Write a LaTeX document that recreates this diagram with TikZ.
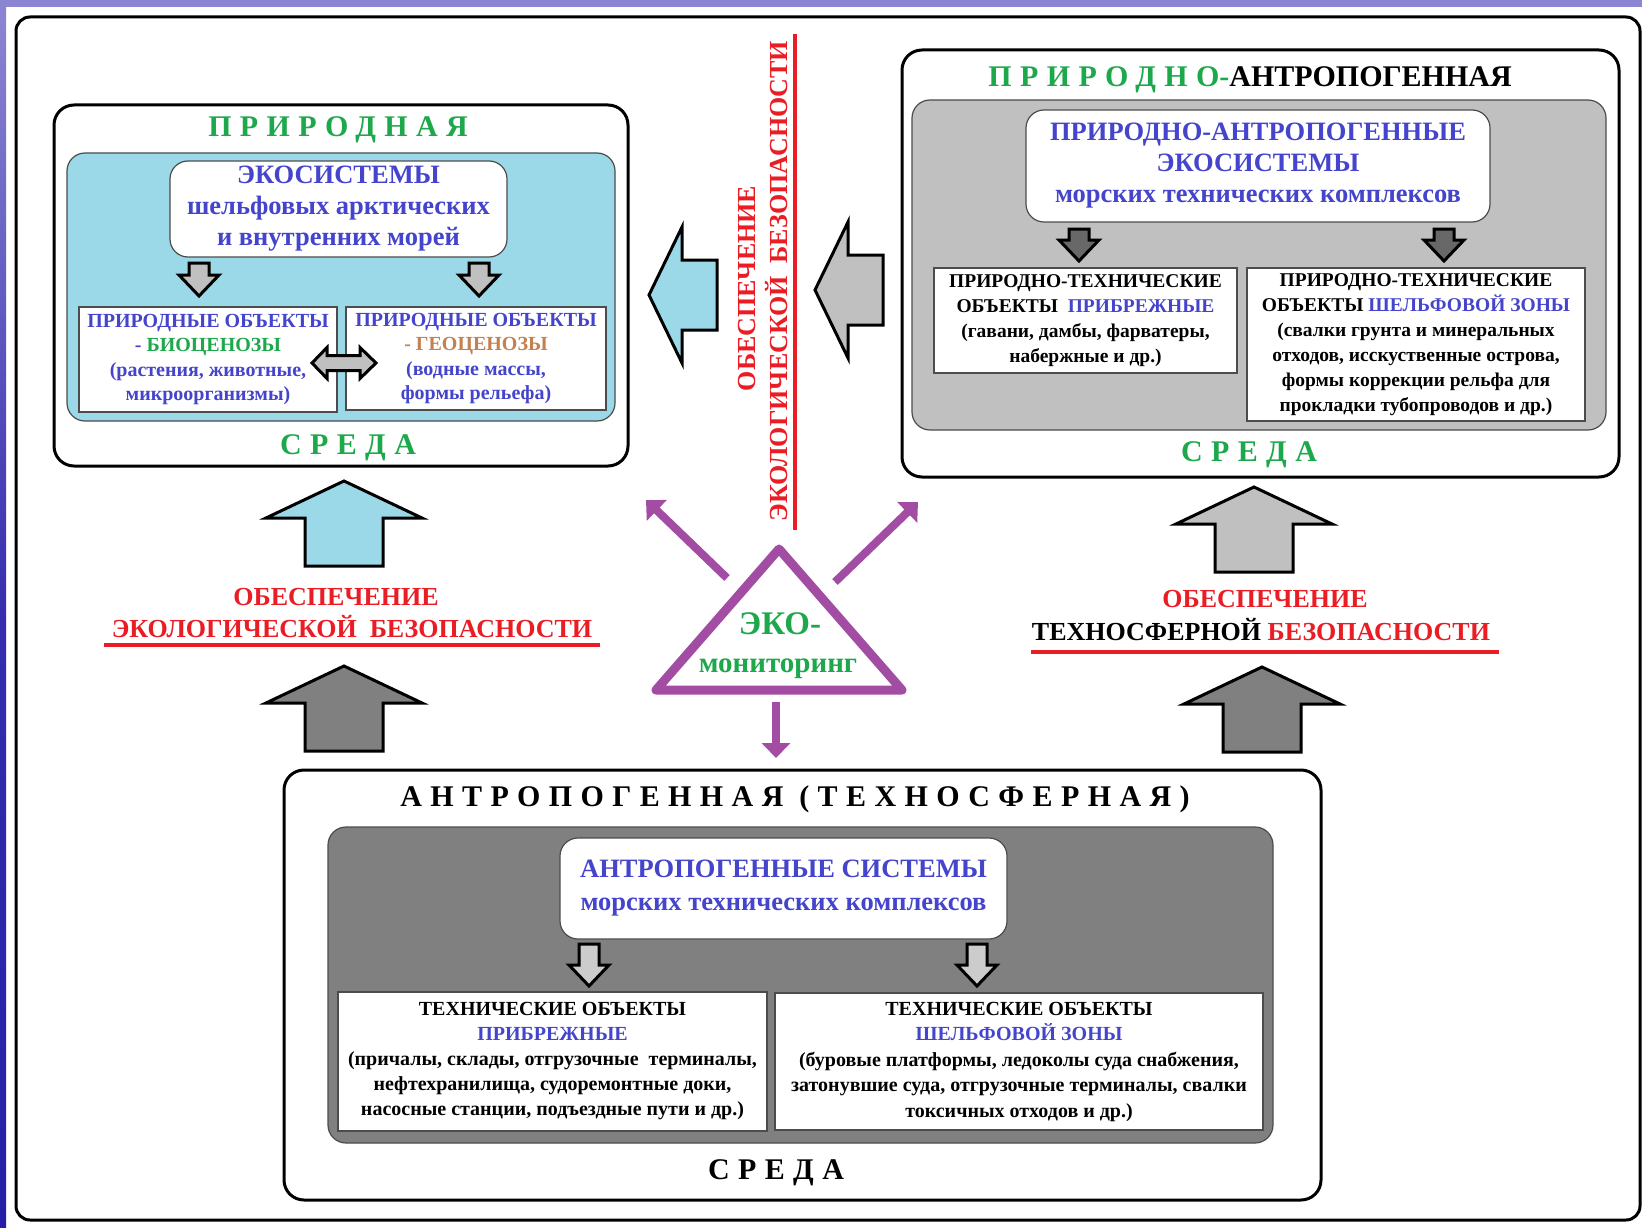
\documentclass[tikz,border=0pt]{standalone}
\usepackage{fontspec}
\setmainfont{Liberation Serif}
\usetikzlibrary{arrows.meta}

\definecolor{txtblue}{RGB}{68,68,204}
\definecolor{natgreen}{RGB}{30,168,76}
\definecolor{geobrown}{RGB}{196,128,78}
\definecolor{safered}{RGB}{234,28,36}
\definecolor{ecopurple}{RGB}{163,76,163}
\definecolor{natblue}{RGB}{155,216,232}
\definecolor{lgray}{RGB}{192,192,192}
\definecolor{mgray}{RGB}{104,104,104}
\definecolor{dgray}{RGB}{128,128,128}
\definecolor{pgray}{RGB}{204,204,204}
\definecolor{striptop}{RGB}{140,134,210}
\definecolor{stripbot}{RGB}{38,30,168}

\newcommand{\hdfnt}{\fontsize{30}{36}\selectfont\bfseries\addfontfeatures{LetterSpace=28}}
\newcommand{\sysfnt}{\fontsize{26.5}{31}\selectfont\bfseries}
\newcommand{\objfnt}{\fontsize{19.5}{25}\selectfont\bfseries}
\newcommand{\safefnt}{\fontsize{26}{31}\selectfont\bfseries}

\tikzset{
  outerbox/.style={draw=black, line width=3pt, rounded corners=14pt, fill=white},
  panel/.style={draw=black, line width=3pt, rounded corners=20pt, fill=white},
  areabox/.style={draw=black!70, line width=1.2pt, rounded corners=18pt},
  sysbox/.style={draw=black!70, line width=1.2pt, fill=white, rounded corners=18pt, align=center, text=txtblue, font=\sysfnt},
  objbox/.style={draw=black!70, line width=1.2pt, fill=white, align=center, font=\objfnt, inner sep=2pt},
  headtxt/.style={anchor=base, font=\hdfnt},
  safetxt/.style={anchor=base, font=\safefnt, text=safered},
  safeline/.style={draw=safered, line width=3.5pt},
  blk/.style={draw=black, line width=3pt, line join=miter},
  eco/.style={draw=ecopurple, line width=9pt, line join=round},
  ecoarrow/.style={draw=ecopurple, line width=8pt, -{Triangle[length=15pt,width=28pt]}},
  pics/bigup/.style={code={\draw[pic actions] (0,0) -- (78,37) -- (39,37) -- (39,85) -- (-39,85) -- (-39,37) -- (-78,37) -- cycle;}},
  pics/bigleft/.style={code={\draw[pic actions] (0,0) -- (33,-68) -- (33,-35) -- (68,-35) -- (68,35) -- (33,35) -- (33,68) -- cycle;}},
  pics/smalldown/.style={code={\draw[pic actions] (-10,0) -- (10,0) -- (10,#1) -- (20,#1) -- (0,#1+21) -- (-20,#1) -- (-10,#1) -- cycle;}}
}

\begin{document}
\begin{tikzpicture}[x=1pt,y=-1pt]
\useasboundingbox (0,0) rectangle (1642,1228);
\fill[white] (0,0) rectangle (1642,1228);
\fill[striptop] (0,0) rectangle (1642,7);
\shade[top color=striptop, bottom color=stripbot, middle color=stripbot!85!striptop] (0,0) rectangle (6,1228);
\node[outerbox, minimum width=1624pt, minimum height=1203pt] (frame) at (828,618.5) {};

\node[panel, minimum width=574pt, minimum height=361pt] (natpanel) at (341,285.5) {};
\node[areabox, fill=natblue, minimum width=548pt, minimum height=268pt] (natarea) at (341,287) {};
\node[sysbox, minimum width=337pt, minimum height=96pt] (natsys) at (338.5,209) {ЭКОСИСТЕМЫ\\шельфовых арктических\\и внутренних морей};
\node[objbox, text=txtblue, font=\fontsize{20}{24.5}\selectfont\bfseries, minimum width=258pt, minimum height=105pt] (bioobj) at (208,359.5) {ПРИРОДНЫЕ ОБЪЕКТЫ\\- {\color{natgreen}БИОЦЕНОЗЫ}\\(растения, животные,\\микроорганизмы)};
\node[objbox, text=txtblue, font=\fontsize{20}{24.5}\selectfont\bfseries, minimum width=260pt, minimum height=103pt] (geoobj) at (476,358.5) {ПРИРОДНЫЕ ОБЪЕКТЫ\\{\color{geobrown}- ГЕОЦЕНОЗЫ}\\(водные массы,\\формы рельефа)};
\node[headtxt, text=natgreen] (nattitle) at (338,137) {ПРИРОДНАЯ};
\node[headtxt, text=natgreen] (natenv) at (348,454) {СРЕДА};
\pic[blk, fill=lgray] at (199,263) {smalldown=12};
\pic[blk, fill=lgray] at (479,263) {smalldown=12};
\draw[blk, fill=lgray] (312,363) -- (327,347.5) -- (327,355.5) -- (360,355.5) -- (360,347.5) -- (376,363) -- (360,378.5) -- (360,370.5) -- (327,370.5) -- (327,378.5) -- cycle;

\node[panel, minimum width=717pt, minimum height=427pt] (mixpanel) at (1260.5,263.5) {};
\node[areabox, fill=lgray, minimum width=694pt, minimum height=330pt] (mixarea) at (1259,265) {};
\node[sysbox, minimum width=464pt, minimum height=112pt] (mixsys) at (1258,166) {ПРИРОДНО-АНТРОПОГЕННЫЕ\\ЭКОСИСТЕМЫ\\морских технических комплексов};
\node[objbox, minimum width=303pt, minimum height=105pt] (coastmix) at (1085.5,320.5) {ПРИРОДНО-ТЕХНИЧЕСКИЕ\\ОБЪЕКТЫ\ \ {\color{txtblue}ПРИБРЕЖНЫЕ}\\(гавани, дамбы, фарватеры,\\набержные и др.)};
\node[objbox, minimum width=338pt, minimum height=153pt] (shelfmix) at (1416,344.5) {ПРИРОДНО-ТЕХНИЧЕСКИЕ\\ОБЪЕКТЫ {\color{txtblue}ШЕЛЬФОВОЙ ЗОНЫ}\\(свалки грунта и минеральных\\отходов, исскуственные острова,\\формы коррекции рельфа для\\прокладки тубопроводов и др.)};
\node[headtxt] (mixtitle) at (1250,87) {{\color{natgreen}ПРИРОДНО}{\addfontfeatures{LetterSpace=0}{\color{natgreen}-}АНТРОПОГЕННАЯ}};
\node[headtxt, text=natgreen] (mixenv) at (1249,461) {СРЕДА};
\pic[blk, fill=mgray] at (1079,229) {smalldown=11};
\pic[blk, fill=mgray] at (1444,229) {smalldown=11};

\node[panel, minimum width=1037pt, minimum height=430pt] (techpanel) at (802.5,985) {};
\node[areabox, fill=dgray, minimum width=945pt, minimum height=316pt] (techarea) at (800.5,985) {};
\node[sysbox, font=\fontsize{26.5}{33}\selectfont\bfseries, minimum width=447pt, minimum height=101pt] (techsys) at (783.5,888.5) {АНТРОПОГЕННЫЕ СИСТЕМЫ\\морских технических комплексов};
\node[objbox, font=\fontsize{20}{25}\selectfont\bfseries, minimum width=429pt, minimum height=139pt] (coasttech) at (552.5,1061.5) {ТЕХНИЧЕСКИЕ ОБЪЕКТЫ\\{\color{txtblue}ПРИБРЕЖНЫЕ}\\(причалы, склады, отгрузочные\ \ терминалы,\\нефтехранилища, судоремонтные доки,\\насосные станции, подъездные пути и др.)};
\node[objbox, font=\fontsize{20}{25.5}\selectfont\bfseries, minimum width=488pt, minimum height=137pt] (shelftech) at (1019,1061.5) {ТЕХНИЧЕСКИЕ ОБЪЕКТЫ\\{\color{txtblue}ШЕЛЬФОВОЙ ЗОНЫ}\\(буровые платформы, ледоколы суда снабжения,\\затонувшие суда, отгрузочные терминалы, свалки\\токсичных отходов и др.)};
\node[headtxt] (techtitle) at (795,806) {АНТРОПОГЕННАЯ (ТЕХНОСФЕРНАЯ)};
\node[headtxt] (techenv) at (776,1179) {СРЕДА};
\pic[blk, fill=pgray] at (589,944) {smalldown=21};
\pic[blk, fill=pgray] at (977,944) {smalldown=21};

\pic[blk, fill=natblue] at (649,295) {bigleft};
\pic[blk, fill=lgray] at (815,290) {bigleft};
\node[safetxt, rotate=90] (vsafe1) at (755,288.5) {ОБЕСПЕЧЕНИЕ};
\node[safetxt, rotate=90] (vsafe2) at (787,281) {ЭКОЛОГИЧЕСКОЙ\ \ БЕЗОПАСНОСТИ};
\draw[safeline] (795,34) -- (795,530);

\pic[blk, fill=natblue] at (344,481) {bigup};
\pic[blk, fill=dgray] at (344,666) {bigup};
\pic[blk, fill=lgray] at (1254,487) {bigup};
\pic[blk, fill=dgray] at (1262,667) {bigup};
\node[safetxt] (ecosafe1) at (336,605) {ОБЕСПЕЧЕНИЕ};
\node[safetxt] (ecosafe2) at (352,637) {ЭКОЛОГИЧЕСКОЙ\ \ БЕЗОПАСНОСТИ};
\draw[safeline] (104,645) -- (600,645);
\node[safetxt] (techsafe1) at (1265,607) {ОБЕСПЕЧЕНИЕ};
\node[safetxt] (techsafe2) at (1261,640) {{\color{black}ТЕХНОСФЕРНОЙ} БЕЗОПАСНОСТИ};
\draw[safeline] (1031,652) -- (1499,652);

\coordinate (apex) at (779,549);
\coordinate (baseL) at (656,690);
\coordinate (baseR) at (902,690);
\draw[eco] (apex) -- (baseL) -- (baseR) -- cycle;
\node[anchor=base, text=natgreen, font=\fontsize{33}{36}\selectfont\bfseries] (ecoword) at (780,634) {ЭКО-};
\node[anchor=base, text=natgreen, font=\fontsize{29}{32}\selectfont\bfseries] (ecomon) at (778,672) {мониторинг};
\coordinate (ulfoot) at (727,578);
\coordinate (ultip) at (646,500);
\coordinate (urfoot) at (835,582);
\coordinate (urtip) at (918,502);
\coordinate (dnfoot) at (776,702);
\coordinate (dntip) at (776,758);
\draw[ecoarrow] (ulfoot) -- (ultip);
\draw[ecoarrow] (urfoot) -- (urtip);
\draw[ecoarrow] (dnfoot) -- (dntip);
\end{tikzpicture}
\end{document}
